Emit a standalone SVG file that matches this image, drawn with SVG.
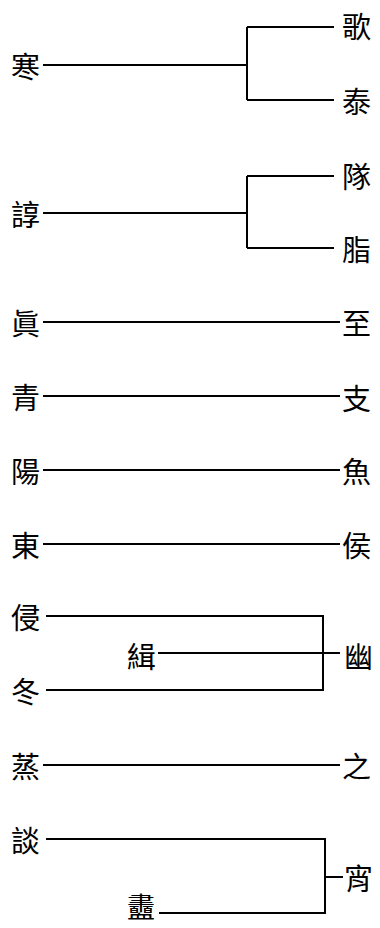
<svg xmlns="http://www.w3.org/2000/svg" width="380" height="928" viewBox="0 0 380 928">
<style>
text{font-family:"Noto Sans CJK TC","Noto Sans CJK SC",sans-serif;font-size:29px;fill:#000;dominant-baseline:central}
.c{fill:none;stroke:#000;stroke-width:2}
</style>
<rect width="380" height="928" fill="#fff"/>
<g id="connectors">
<path class="c" d="M43 65H247M247 27V100M247 27H334M247 100H334"/>
<path class="c" d="M43 213H247M247 176V248M247 176H334M247 248H334"/>
<path class="c" d="M43 322H340"/>
<path class="c" d="M43 396H340"/>
<path class="c" d="M43 470H340"/>
<path class="c" d="M43 544H340"/>
<path class="c" d="M46 616H323V690H46M158 653H340"/>
<path class="c" d="M43 765H340"/>
<path class="c" d="M46 839H325V913H159M325 877H343"/>
</g>
<g id="n-han"><text x="11" y="65">寒</text></g>
<g id="n-zhun"><text x="11" y="213">諄</text></g>
<g id="n-zhen"><text x="11" y="322">眞</text></g>
<g id="n-qing"><text x="11" y="396">青</text></g>
<g id="n-yang"><text x="11" y="470">陽</text></g>
<g id="n-dong"><text x="11" y="544">東</text></g>
<g id="n-qin"><text x="11" y="616">侵</text></g>
<g id="n-dong2"><text x="11" y="690">冬</text></g>
<g id="n-zheng"><text x="11" y="765">蒸</text></g>
<g id="n-tan"><text x="11" y="839">談</text></g>
<g id="n-ji"><text x="127" y="655">緝</text></g>
<g id="n-xi"><text x="127" y="906" style="font-size:28px">衋</text></g>
<g id="n-ge"><text x="342" y="25">歌</text></g>
<g id="n-tai"><text x="342" y="100">泰</text></g>
<g id="n-dui"><text x="342" y="175">隊</text></g>
<g id="n-zhi"><text x="342" y="248">脂</text></g>
<g id="n-zhi2"><text x="342" y="322">至</text></g>
<g id="n-zhi3"><text x="342" y="397">支</text></g>
<g id="n-yu"><text x="342" y="470">魚</text></g>
<g id="n-hou"><text x="342" y="544">侯</text></g>
<g id="n-you"><text x="344" y="655">幽</text></g>
<g id="n-zhi4"><text x="342" y="765">之</text></g>
<g id="n-xiao"><text x="344" y="877">宵</text></g>
</svg>
